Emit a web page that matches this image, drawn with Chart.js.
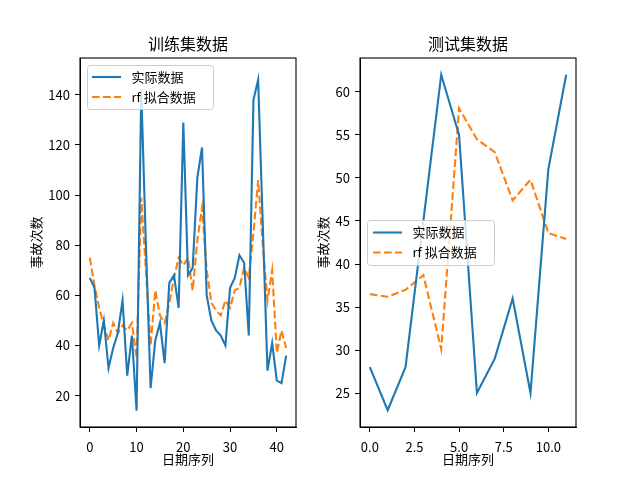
<!DOCTYPE html>
<html><head><meta charset="utf-8">
<script src="https://cdn.jsdelivr.net/npm/chart.js@4"></script>
<style>
html,body{margin:0;padding:0;background:#fff;width:640px;height:480px;overflow:hidden}
canvas{position:absolute;top:0}
#c1{left:0}
#c2{left:300px}
</style></head>
<body>
<canvas id="c1" width="300" height="480"></canvas>
<canvas id="c2" width="340" height="480"></canvas>
<script>
// ---- data ----
const trainActual = [67, 63, 40, 50, 31, 39, 45, 58, 28, 44, 14, 142, 80, 23, 42, 49, 33, 65, 68, 55, 129, 68, 71, 107, 119, 60, 50, 46, 44, 40, 63, 67, 76, 73, 44, 138, 146, 88, 30, 41, 26, 25, 36];
const trainFit = [75, 64, 55, 48, 42, 49, 45, 48, 46, 49, 35, 99, 70, 40, 62, 52, 49, 57, 67, 75, 72, 75, 62, 82, 95, 70, 57, 54, 52, 58, 55, 62, 63, 71, 67, 85, 106, 80, 58, 70, 37, 46, 39];
const testActual = [28, 23, 28, 45, 62, 55, 25, 29, 36, 25, 51, 62];
const testFit = [36.5, 36.2, 37.0, 38.7, 30.1, 58.1, 54.5, 53.0, 47.4, 49.8, 43.6, 42.9];
const trainTicksX = [0, 10, 20, 30, 40];
const trainTicksY = [20, 40, 60, 80, 100, 120, 140];
const testTicksX = [0, 2.5, 5, 7.5, 10];
const testTickLabelsX = ['0.0', '2.5', '5.0', '7.5', '10.0'];
const testTicksY = [25, 30, 35, 40, 45, 50, 55, 60];
const seriesNames = ['实际数据', 'rf 拟合数据'];
const chartTitles = ['训练集数据', '测试集数据'];
const xTitle = '日期序列';
const yTitle = '事故次数';

// ---- style ----
const BLUE = '#1f77b4';
const ORANGE = '#ff7f0e';
const LW = 2.1;
const DASH = [7.7, 3.3];
const FONT = "'Noto Sans CJK SC', 'Noto Sans', sans-serif";
Chart.defaults.font.family = FONT;
Chart.defaults.color = '#000';

function makeSample(color, dash) {
  const c = document.createElement('canvas');
  c.width = 33; c.height = 4;
  const g = c.getContext('2d');
  g.strokeStyle = color; g.lineWidth = LW; g.setLineDash(dash);
  g.beginPath(); g.moveTo(0, 2); g.lineTo(29, 2); g.stroke();
  return c;
}
const sampleSolid = makeSample(BLUE, []);
const sampleDash = makeSample(ORANGE, DASH);

function roundRect(ctx, x, y, w, h, r) {
  ctx.beginPath();
  ctx.moveTo(x + r, y);
  ctx.lineTo(x + w - r, y); ctx.arcTo(x + w, y, x + w, y + r, r);
  ctx.lineTo(x + w, y + h - r); ctx.arcTo(x + w, y + h, x + w - r, y + h, r);
  ctx.lineTo(x + r, y + h); ctx.arcTo(x, y + h, x, y + h - r, r);
  ctx.lineTo(x, y + r); ctx.arcTo(x, y, x + r, y, r);
  ctx.closePath();
}

const framePlugin = {
  id: 'frame',
  afterInit(chart) {
    const lg = chart.legend;
    lg._layers = () => [{ z: 1, draw: (ca) => {
      const o = chart.options.plugins.frame;
      const a = chart.chartArea;
      const ctx = chart.ctx;
      const fy = o.center ? (a.top + a.bottom) / 2 - o.h / 2 : a.top + o.oy;
      ctx.save();
      roundRect(ctx, a.left + o.ox + 0.5, fy + 0.5, o.w, o.h, 3);
      ctx.fillStyle = 'rgba(255,255,255,0.8)';
      ctx.fill();
      ctx.strokeStyle = '#cccccc'; ctx.lineWidth = 1;
      ctx.stroke();
      ctx.restore();
      lg.draw(ca);
    } }];
  },
  afterLayout(chart) {
    const o = chart.options.plugins.frame;
    const lg = chart.legend, a = chart.chartArea;
    lg.left = a.left + o.dx; lg.right = a.right + o.dx;
    lg.top = a.top + o.dy; lg.bottom = a.bottom + o.dy;
  },
  afterDatasetsDraw(chart) {
    const a = chart.chartArea, ctx = chart.ctx;
    ctx.save();
    ctx.strokeStyle = '#000'; ctx.lineWidth = 1.1;
    ctx.strokeRect(a.left, a.top, a.right - a.left, a.bottom - a.top);
    ctx.restore();
  }
};

function makeChart(id, cfg) {
  const pts = v => v.map((y, i) => ({ x: i, y }));
  const axisCommon = (ticks, labels, fit, pad) => ({
    type: 'linear',
    afterBuildTicks: s => { s.ticks = ticks.map(v => ({ value: v })); },
    ticks: {
      callback: (v, i) => labels ? labels[i] : String(v),
      font: { size: 13 }, color: '#000', padding: pad, maxRotation: 0, autoSkip: false
    },
    grid: { drawOnChartArea: false, drawTicks: true, tickLength: 5, color: '#000', lineWidth: 1 },
    border: { display: true, color: '#000', width: 1 },
    afterFit: fit
  });
  const xAxis = axisCommon(cfg.xTicks, cfg.xLabels, s => { s.height = 53; }, 7);
  xAxis.min = cfg.xRange[0]; xAxis.max = cfg.xRange[1];
  xAxis.title = { display: true, text: xTitle, font: { size: 13 }, color: '#000', padding: { top: 0, bottom: 13.5 } };
  const yAxis = axisCommon(cfg.yTicks, null, s => { s.width = cfg.yWidth; }, 5);
  yAxis.min = cfg.yRange[0]; yAxis.max = cfg.yRange[1];
  yAxis.title = { display: true, text: yTitle, font: { size: 13 }, color: '#000', padding: { top: cfg.yTitlePad, bottom: 0 } };
  return new Chart(document.getElementById(id), {
    type: 'line',
    data: { datasets: [
      { label: seriesNames[0], data: pts(cfg.actual), borderColor: BLUE, backgroundColor: BLUE, borderWidth: LW,
        pointRadius: 0, pointHoverRadius: 0, pointStyle: sampleSolid, tension: 0, fill: false },
      { label: seriesNames[1], data: pts(cfg.fit), borderColor: ORANGE, backgroundColor: ORANGE, borderWidth: LW,
        borderDash: DASH, pointRadius: 0, pointHoverRadius: 0, pointStyle: sampleDash, tension: 0, fill: false }
    ] },
    options: {
      responsive: false, animation: false, devicePixelRatio: 1,
      layout: { padding: { left: 0, right: cfg.padRight, top: 0, bottom: 0 } },
      plugins: {
        title: { display: true, fullSize: false, text: cfg.title, font: { size: 16, weight: 'normal' }, color: '#000', padding: { top: 34.4, bottom: 4.4 } },
        legend: { position: 'chartArea', align: cfg.legendAlign,
          labels: { usePointStyle: true, pointStyleWidth: 33, font: { size: 13 }, color: '#000', padding: 7 } },
        tooltip: { enabled: false },
        frame: cfg.frame
      },
      scales: { x: xAxis, y: yAxis }
    },
    plugins: [framePlugin]
  });
}

makeChart('c1', {
  actual: trainActual, fit: trainFit, title: chartTitles[0],
  xTicks: trainTicksX, xLabels: null, yTicks: trainTicksY,
  xRange: [-2.1, 44.1], yRange: [7.5, 154.7],
  yWidth: 80, yTitlePad: 28, padRight: 4, legendAlign: 'start',
  frame: { dx: 5, dy: 5.5, ox: 7, oy: 7, w: 126, h: 44, center: false }
});
makeChart('c2', {
  actual: testActual, fit: testFit, title: chartTitles[1],
  xTicks: testTicksX, xLabels: testTickLabelsX, yTicks: testTicksY,
  xRange: [-0.55, 11.55], yRange: [21.05, 63.95],
  yWidth: 60, yTitlePad: 15, padRight: 64, legendAlign: 'center',
  frame: { dx: 6, dy: 0, ox: 7, oy: 0, w: 127, h: 45, center: true }
});
</script>
</body></html>
